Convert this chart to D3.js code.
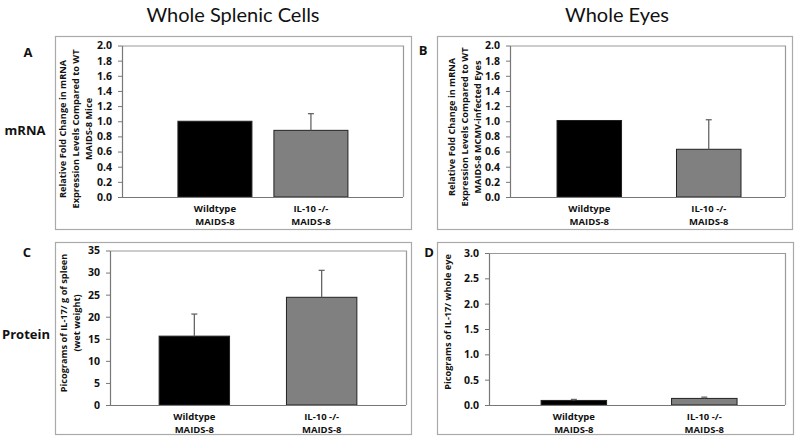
<!DOCTYPE html>
<html><head><meta charset="utf-8">
<script src="https://cdn.jsdelivr.net/npm/d3@7"></script>
<style>
html,body{margin:0;padding:0;background:#fff;}
svg{display:block;font-family:"Open Sans",sans-serif;}
</style></head>
<body><svg id="chart" width="800" height="442"></svg>
<script>
// ---- data ----
const categoryLine1 = ["Wildtype", "IL-10 -/-"];
const categoryLine2 = ["MAIDS-8", "MAIDS-8"];
const spleenMrna = [1.00, 0.88];
const spleenMrnaErr = [0, 0.22];
const eyeMrna = [1.01, 0.63];
const eyeMrnaErr = [0, 0.39];
const spleenProtein = [15.6, 24.4];
const spleenProteinErr = [5.0, 6.1];
const eyeProtein = [0.09, 0.13];
const eyeProteinErr = [0.02, 0.025];
const mrnaTicks = [0, 0.2, 0.4, 0.6, 0.8, 1.0, 1.2, 1.4, 1.6, 1.8, 2.0];
const spleenProteinTicks = [0, 5, 10, 15, 20, 25, 30, 35];
const eyeProteinTicks = [0, 0.5, 1.0, 1.5, 2.0, 2.5, 3.0];
const columnTitles = ["Whole Splenic Cells", "Whole Eyes"];
const rowTitles = ["mRNA", "Protein"];
const panelLetters = ["A", "B", "C", "D"];
const yTitleA = ["Relative Fold Change in mRNA", "Expression Levels Compared to WT", "MAIDS-8 Mice"];
const yTitleB = ["Relative Fold Change in mRNA", "Expression Levels Compared to WT", "MAIDS-8 MCMV-infected Eyes"];
const yTitleC = ["Picograms of IL-17/ g of spleen", "(wet weight)"];
const yTitleD = ["Picograms of IL-17/ whole eye"];

// ---- layout ----
const barColors = ["#000000", "#808080"];
const panels = [
  {letter: panelLetters[0], values: spleenMrna, errs: spleenMrnaErr, ticks: mrnaTicks, fmt: ".1f", ymax: 2,
   box: [55, 36, 411, 229], plot: [122, 45.5, 403, 197], band: [0.199, 0.804, 0.229], ytitle: yTitleA, ytx: 62, yty: 129,
   letterPos: [28, 52]},
  {letter: panelLetters[1], values: eyeMrna, errs: eyeMrnaErr, ticks: mrnaTicks, fmt: ".1f", ymax: 2,
   box: [437, 36, 792, 229], plot: [510, 45.5, 785, 197], band: [0.171, 0.84, 0.46], ytitle: yTitleB, ytx: 451, yty: 127,
   letterPos: [423, 50]},
  {letter: panelLetters[2], values: spleenProtein, errs: spleenProteinErr, ticks: spleenProteinTicks, fmt: "d", ymax: 35,
   box: [55, 242, 411, 434], plot: [110, 250.5, 406, 405], band: [0.166, 0.834, 0.447], ytitle: yTitleC, ytx: 63, yty: 323,
   letterPos: [27, 252]},
  {letter: panelLetters[3], values: eyeProtein, errs: eyeProteinErr, ticks: eyeProteinTicks, fmt: ".1f", ymax: 3,
   box: [437, 242, 793, 434], plot: [489, 253, 785, 405], band: [0.176, 0.838, 0.498], ytitle: yTitleD, ytx: 447, yty: 322,
   letterPos: [429, 252]}
];

const svg = d3.select("#chart");
const boldFont = "'Open Sans', sans-serif";

// column titles
[233, 617].forEach((cx, i) => {
  svg.append("text").attr("x", cx).attr("y", 22).attr("text-anchor", "middle")
    .attr("font-family", "Lato, sans-serif")
    .attr("font-size", 20).attr("fill", "#111").text(columnTitles[i]);
});
// row titles
[[25, 135], [26, 339]].forEach((p, i) => {
  svg.append("text").attr("x", p[0]).attr("y", p[1]).attr("text-anchor", "middle")
    .attr("font-family", boldFont)
    .attr("font-size", 13).attr("font-weight", "bold").attr("fill", "#111").text(rowTitles[i]);
});

panels.forEach(p => {
  const g = svg.append("g");
  // outer box
  g.append("rect").attr("x", p.box[0] + 0.5).attr("y", p.box[1] + 0.5)
    .attr("width", p.box[2] - p.box[0]).attr("height", p.box[3] - p.box[1])
    .attr("fill", "none").attr("stroke", "#aaa").attr("stroke-width", 1.2);
  // letter
  g.append("text").attr("x", p.letterPos[0]).attr("y", p.letterPos[1] + 5).attr("text-anchor", "middle")
    .attr("font-family", boldFont)
    .attr("font-size", 13).attr("font-weight", "bold").attr("fill", "#111").text(p.letter);

  const [x0, y0, x1, y1] = p.plot;
  const w = x1 - x0;
  const y = d3.scaleLinear().domain([0, p.ymax]).range([y1, y0]);
  const x = d3.scaleBand().domain(d3.range(p.values.length))
    .range([x0 + p.band[0] * w, x0 + p.band[1] * w]).paddingInner(p.band[2]).paddingOuter(0);

  // plot area border (top, right)
  g.append("path").attr("d", `M${x0},${y0 + 0.5}H${x1 + 0.5}V${y1}`)
    .attr("fill", "none").attr("stroke", "#999").attr("stroke-width", 1.2);

  // bars
  g.selectAll("rect.bar").data(p.values).enter().append("rect").attr("class", "bar")
    .attr("x", (d, i) => x(i)).attr("width", x.bandwidth())
    .attr("y", d => y(d)).attr("height", d => y(0) - y(d))
    .attr("fill", (d, i) => barColors[i]).attr("stroke", "#222").attr("stroke-width", 1);

  // error bars (upper only)
  p.values.forEach((v, i) => {
    const e = p.errs[i];
    if (e <= 0) return;
    const cx = x(i) + x.bandwidth() / 2;
    g.append("line").attr("x1", cx).attr("x2", cx).attr("y1", y(v)).attr("y2", y(v + e))
      .attr("stroke", "#666").attr("stroke-width", 1.3);
    g.append("line").attr("x1", cx - 3).attr("x2", cx + 3).attr("y1", y(v + e)).attr("y2", y(v + e))
      .attr("stroke", "#666").attr("stroke-width", 1.3);
  });

  // y axis
  const yAxis = d3.axisLeft(y).tickValues(p.ticks).tickFormat(d3.format(p.fmt)).tickSizeInner(4).tickSizeOuter(0).tickPadding(6);
  const ya = g.append("g").attr("transform", `translate(${x0},0)`).call(yAxis);
  ya.select(".domain").attr("stroke", "#777").attr("stroke-width", 1.2);
  ya.selectAll(".tick line").attr("stroke", "#777");
  ya.selectAll(".tick text").attr("font-size", 10.5).attr("font-weight", "bold").attr("fill", "#111")
    .attr("font-family", boldFont);

  // x axis
  const xa = g.append("g").attr("transform", `translate(0,${y1})`)
    .call(d3.axisBottom(x).tickSize(0).tickFormat(() => ""));
  xa.select(".domain").remove();
  g.append("line").attr("x1", x0).attr("x2", x1).attr("y1", y1 + 0.5).attr("y2", y1 + 0.5)
    .attr("stroke", "#777").attr("stroke-width", 1.2);
  xa.selectAll(".tick").each(function(d) {
    const t = d3.select(this);
    t.append("text").attr("fill", "#111").attr("font-size", 9.5).attr("font-weight", "bold")
      .attr("text-anchor", "middle").attr("font-family", boldFont)
      .attr("x", 0).attr("y", 14.5).text(categoryLine1[d]);
    t.append("text").attr("fill", "#111").attr("font-size", 9.5).attr("font-weight", "bold")
      .attr("text-anchor", "middle").attr("font-family", boldFont)
      .attr("x", 0).attr("y", 27.5).text(categoryLine2[d]);
  });

  // y title
  p.ytitle.forEach((line, k) => {
    const tx = p.ytx + k * 13;
    g.append("text").attr("transform", `translate(${tx + 3.5},${p.yty}) rotate(-90)`)
      .attr("text-anchor", "middle").attr("font-family", boldFont)
      .attr("font-size", 9.2).attr("font-weight", "bold").attr("fill", "#111")
      .text(line);
  });
});
</script>
</body></html>
